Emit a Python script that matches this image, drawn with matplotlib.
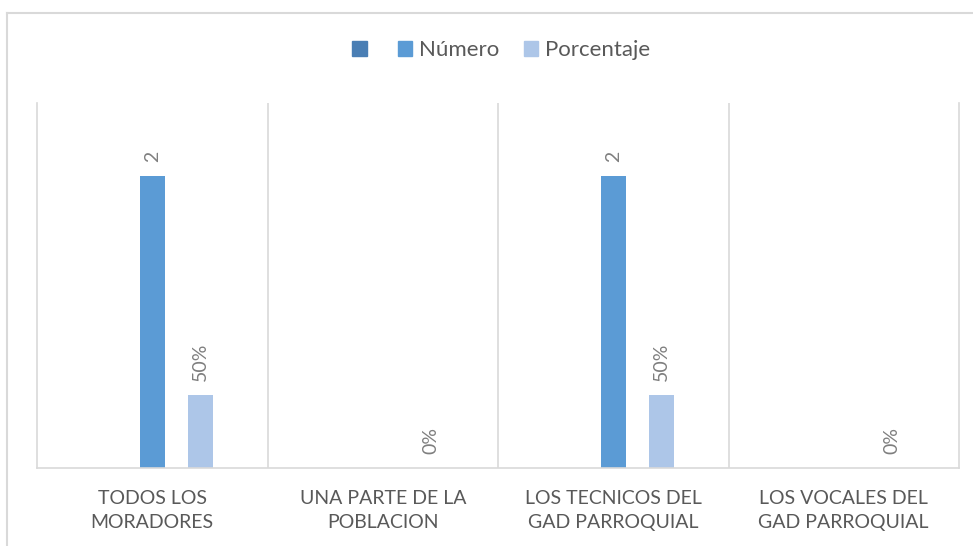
import matplotlib
matplotlib.use("Agg")
import matplotlib.pyplot as plt
import numpy as np
from matplotlib.lines import Line2D

categories = ["TODOS LOS\nMORADORES", "UNA PARTE DE LA\nPOBLACION",
              "LOS TECNICOS DEL\nGAD PARROQUIAL", "LOS VOCALES DEL\nGAD PARROQUIAL"]
series_names = ["", "Número", "Porcentaje"]
serie0 = [np.nan, np.nan, np.nan, np.nan]
numero = [2, np.nan, 2, np.nan]
porcentaje = [0.5, 0.0, 0.5, 0.0]
colors = ["#4A7EB4", "#5B9BD5", "#ADC6E8"]

plt.rcParams['font.family'] = ['Lato', 'DejaVu Sans']

fig = plt.figure(figsize=(9.73, 5.46), dpi=100)
ax = fig.add_axes([37/973, 1-468/546, (959-37)/973, (468-103)/546])

x = np.arange(len(categories))
off = 0.208
w = 0.108
ax.bar(x - off, serie0, w, color=colors[0], label=series_names[0])
ax.bar(x, numero, w, color=colors[1], label=series_names[1])
ax.bar(x + off, porcentaje, w, color=colors[2], label=series_names[2])

for xi, v in zip(x, numero):
    if not np.isnan(v):
        ax.annotate(f"{v:g}", (xi, v), xytext=(0, 10), textcoords="offset points",
                    rotation=90, ha="center", va="bottom", color="#7F7F7F", fontsize=14)
for xi, v in zip(x, porcentaje):
    ax.annotate(f"{v:.0%}", (xi + off, v), xytext=(0, 10), textcoords="offset points",
                rotation=90, ha="center", va="bottom", color="#7F7F7F", fontsize=14)

ax.set_xlim(-0.5, len(categories) - 0.5)
ax.set_ylim(0, 2.5)
ax.set_yticks([])
ax.set_xticks(x)
ax.set_xticklabels(categories, fontsize=14, color="#595959", linespacing=1.5)
ax.tick_params(axis="x", length=0, pad=16)
ax.set_xticks(np.arange(0.5, len(categories) - 0.5, 1), minor=True)
ax.tick_params(axis="x", which="minor", length=0)
ax.grid(axis="x", which="minor", color="#D9D9D9", linewidth=1.2)
for s in ["left", "right", "bottom"]:
    ax.spines[s].set_color("#D9D9D9")
    ax.spines[s].set_linewidth(1.2)
ax.spines["top"].set_visible(False)

handles = [plt.Rectangle((0, 0), 1, 1, color=c) for c in colors]
fig.legend(handles, series_names, loc="center", bbox_to_anchor=(501/973, 1-50/546),
           ncol=3, frameon=False, fontsize=16, handlelength=0.65, handleheight=0.65,
           columnspacing=1.1, handletextpad=0.3, labelcolor="#595959")

fig.add_artist(Line2D([7/973, 7/973], [0, 1-13/546], color="#D9D9D9", lw=1.5, transform=fig.transFigure))
fig.add_artist(Line2D([7/973, 1], [1-13/546, 1-13/546], color="#D9D9D9", lw=1.5, transform=fig.transFigure))

fig.savefig("out.png", dpi=100)
